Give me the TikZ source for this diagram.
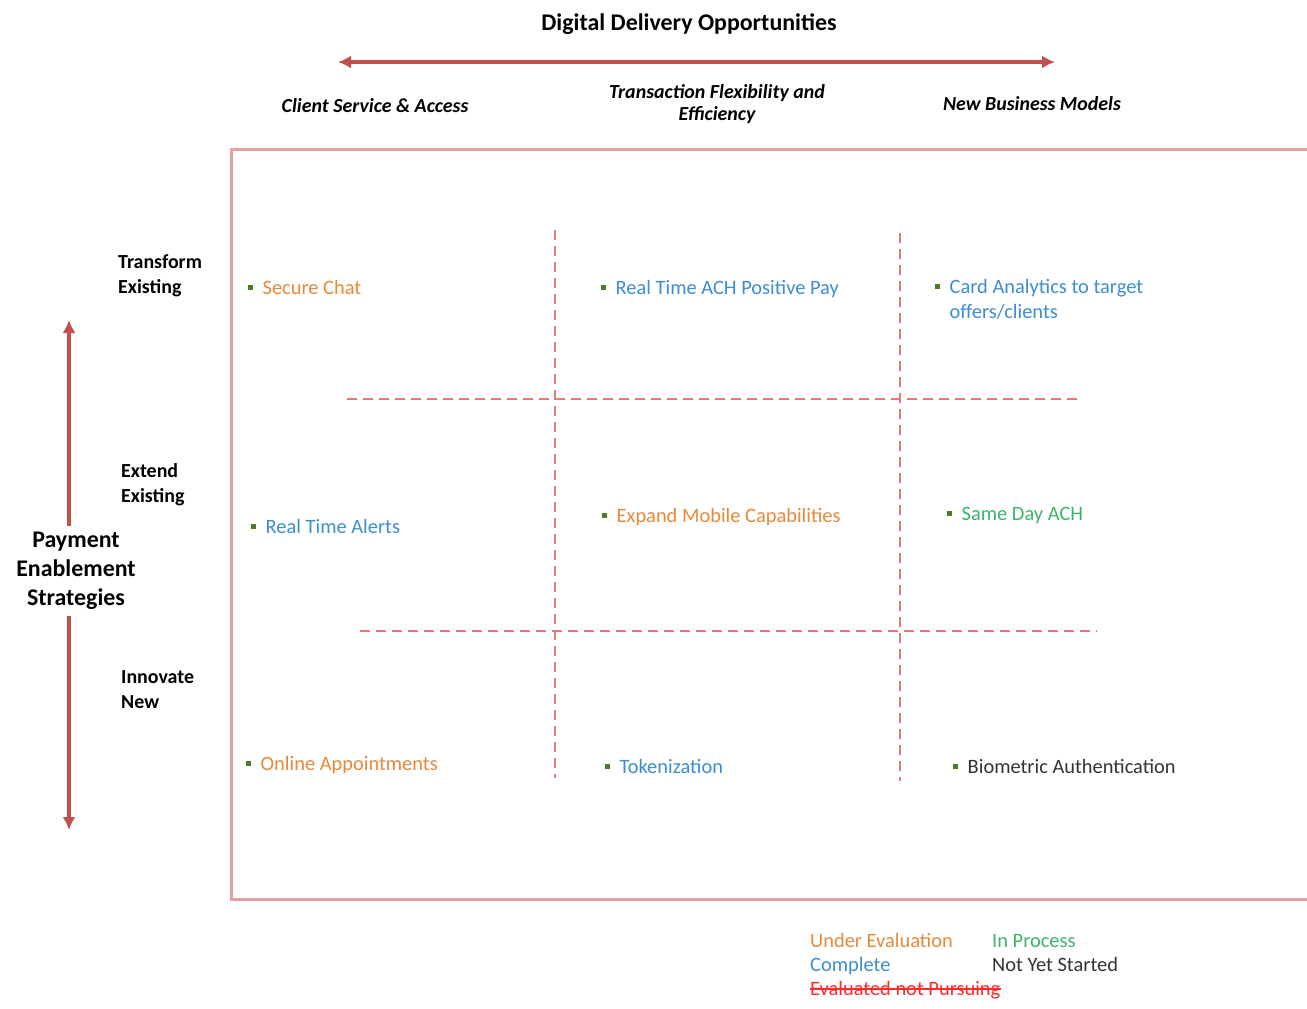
\documentclass[tikz,border=0pt]{standalone}
\usepackage{fontspec}
\setmainfont{Carlito}
\usetikzlibrary{arrows.meta}

\definecolor{axisred}{HTML}{C0504D}
\definecolor{framepink}{HTML}{E3A1A1}
\definecolor{gridred}{HTML}{DC7C7C}
\definecolor{evalorange}{HTML}{E8883A}
\definecolor{doneblue}{HTML}{3C8DD3}
\definecolor{progreen}{HTML}{3DB36B}
\definecolor{notyet}{HTML}{333333}
\definecolor{dropred}{HTML}{FF2A2A}
\definecolor{bulletgreen}{HTML}{4E7B2A}

% small square bullet in front of every opportunity
\newcommand{\sqbullet}{{\color{bulletgreen}\raisebox{4.5bp}{\rule{5bp}{5bp}}}\hspace{9.5bp}}

\tikzset{
  axisarrow/.style={draw=axisred, line width=4bp, {Latex[length=13bp,width=13bp]}-{Latex[length=13bp,width=13bp]}},
  axisline/.style={draw=axisred, line width=4bp, -{Latex[length=13bp,width=13bp]}},
  frameline/.style={draw=framepink, line width=3bp},
  gridline/.style={draw=gridred, line width=2.5bp, dash pattern=on 10bp off 6bp},
  title/.style={font=\fontsize{24}{28}\selectfont\bfseries, inner sep=0},
  colhead/.style={font=\fontsize{20}{22}\selectfont\bfseries\itshape, inner sep=0, align=center},
  rowhead/.style={font=\fontsize{20}{25}\selectfont\bfseries, inner sep=0, align=left, anchor=west},
  sidehead/.style={font=\fontsize{24}{29}\selectfont\bfseries, inner sep=0, align=center},
  item/.style={font=\fontsize{20.5}{25}\selectfont, inner sep=0, anchor=base west, align=left},
  legend/.style={font=\fontsize{20.5}{24}\selectfont, inner sep=0, anchor=base west}
}

\begin{document}
\begin{tikzpicture}[x=1bp,y=-1bp]
\useasboundingbox (0,0) rectangle (1307,1008);
\clip (0,0) rectangle (1307,1008);

% horizontal axis: digital delivery opportunities
\node[title] (ddo) at (689,24) {Digital Delivery Opportunities};
\coordinate (hleft) at (338,62);
\coordinate (hright) at (1055,62);
\draw[axisarrow] (hleft) -- (hright);

\node[colhead] (csa) at (375,106) {Client Service \& Access};
\node[colhead] (tfe) at (717,104) {Transaction Flexibility and\\Efficiency};
\node[colhead] (nbm) at (1032,104) {New Business Models};

% vertical axis: payment enablement strategies
\node[sidehead] (pes) at (76,571) {Payment\\Enablement\\Strategies};
\coordinate (vtop) at (69,320);
\coordinate (vbottom) at (69,830);
\draw[axisline] (pes.north -| vtop) ++(0,-6) -- (vtop);
\draw[axisline] (pes.south -| vbottom) ++(0,6) -- (vbottom);

\node[rowhead] (tex) at (118,276) {Transform\\Existing};
\node[rowhead] (eex) at (121,485) {Extend\\Existing};
\node[rowhead] (inn) at (121,690) {Innovate\\New};

% matrix frame, open to the right
\draw[frameline] (1320,149) -- (231,149) -- (231,899) -- (1320,899);

% dashed cell dividers
\coordinate (v1t) at (555,230);
\coordinate (v1b) at (555,778);
\coordinate (v2t) at (900,233);
\coordinate (v2b) at (900,781);
\coordinate (h1l) at (347,399);
\coordinate (h1r) at (1083,399);
\coordinate (h2l) at (360,631);
\coordinate (h2r) at (1097,631);
\draw[gridline] (v1t) -- (v1b);
\draw[gridline] (v2t) -- (v2b);
\draw[gridline] (h1l) -- (h1r);
\draw[gridline] (h2l) -- (h2r);

% opportunities (placed by baseline; two-line entries by their last line)
\node[item, text=evalorange] (chat) at (248,294.5) {\sqbullet Secure Chat};
\node[item, text=doneblue] (achpp) at (601,294.5) {\sqbullet Real Time ACH Positive Pay};
\node[item, text=doneblue] (card) at (935,318) {\sqbullet Card Analytics to target\\\hspace*{14.5bp}offers/clients};
\node[item, text=doneblue] (alerts) at (251,533.5) {\sqbullet Real Time Alerts};
\node[item, text=evalorange] (mobile) at (602,522.5) {\sqbullet Expand Mobile Capabilities};
\node[item, text=progreen] (sdach) at (947,520.5) {\sqbullet Same Day ACH};
\node[item, text=evalorange] (appt) at (246,770.5) {\sqbullet Online Appointments};
\node[item, text=doneblue] (token) at (605,773.5) {\sqbullet Tokenization};
\node[item, text=notyet] (bio) at (953,773.5) {\sqbullet Biometric Authentication};

% status legend
\node[legend, text=evalorange] (lgeval) at (810,947.5) {Under Evaluation};
\node[legend, text=doneblue] (lgdone) at (810,971.5) {Complete};
\node[legend, text=dropred] (lgdrop) at (810,995.5) {Evaluated not Pursuing};
\draw[dropred, line width=1.5bp] ([yshift=6.5bp]lgdrop.base west) -- ([yshift=6.5bp]lgdrop.base east);
\node[legend, text=progreen] (lgprog) at (992,947.5) {In Process};
\node[legend, text=notyet] (lgnot) at (992,971.5) {Not Yet Started};
\end{tikzpicture}
\end{document}
